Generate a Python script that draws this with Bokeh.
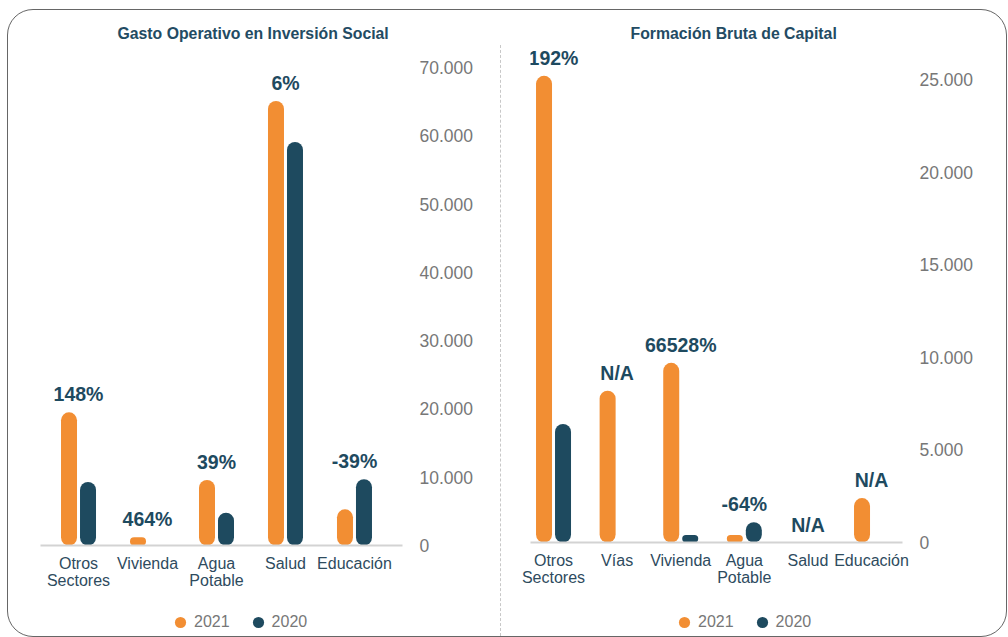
from bokeh.plotting import figure
from bokeh.models import Range1d, FixedTicker, Legend, LegendItem, Div
from bokeh.layouts import row, column
from bokeh.embed import file_html
from bokeh.resources import INLINE
from bokeh.core.properties import value

# ---------------- data ----------------
gasto_title = "Gasto Operativo en Inversión Social"
gasto_cats = ["Otros\nSectores", "Vivienda", "Agua\nPotable", "Salud", "Educación"]
gasto_2021 = [19500, 1200, 9600, 65100, 5300]
gasto_2020 = [9300, 0, 4800, 59100, 9700]
gasto_pct = ["148%", "464%", "39%", "6%", "-39%"]
gasto_yticks = [0, 10000, 20000, 30000, 40000, 50000, 60000, 70000]
gasto_ylabels = ["0", "10.000", "20.000", "30.000", "40.000", "50.000", "60.000", "70.000"]

fbk_title = "Formación Bruta de Capital"
fbk_cats = ["Otros\nSectores", "Vías", "Vivienda", "Agua\nPotable", "Salud", "Educación"]
fbk_2021 = [25200, 8200, 9700, 400, 0, 2400]
fbk_2020 = [6400, 0, 400, 1100, 0, 0]
fbk_pct = ["192%", "N/A", "66528%", "-64%", "N/A", "N/A"]
fbk_yticks = [0, 5000, 10000, 15000, 20000, 25000]
fbk_ylabels = ["0", "5.000", "10.000", "15.000", "20.000", "25.000"]

series_names = ["2021", "2020"]

ORANGE = "#F28E33"
TEAL = "#1E4A5F"
TITLE_C = "#234B63"
GRAY = "#777777"
FONT = "Liberation Sans"
NAN = float("nan")


def make_panel(title, cats, v21, v20, pct, yticks, ylabels, width, height,
               b_left, b_right, b_top, b_bottom, x_start, x_end, y_end,
               title_offset):
    frame_w = width - b_left - b_right
    p = figure(width=width, height=height,
               x_range=Range1d(x_start, x_end), y_range=Range1d(0, y_end),
               output_backend="svg", toolbar_location=None,
               y_axis_location="right",
               min_border_left=b_left, min_border_right=b_right,
               min_border_top=b_top, min_border_bottom=b_bottom)
    p.background_fill_alpha = 0
    p.border_fill_alpha = 0
    p.outline_line_color = None
    p.xgrid.grid_line_color = None
    p.ygrid.grid_line_color = None

    px = (x_end - x_start) / frame_w
    idx = list(range(len(cats)))
    x21 = [i - 9.5 * px for i in idx]
    x20 = [i + 9.5 * px for i in idx]
    p.vbar(x=x21, top=v21, width=16 * px, fill_color=ORANGE, line_color=None,
           border_radius=8)
    p.vbar(x=x20, top=v20, width=16 * px, fill_color=TEAL, line_color=None,
           border_radius=8)

    tops = [max(a, b) for a, b in zip(v21, v20)]
    p.text(x=idx, y=tops, text=pct, text_align="center", text_baseline="bottom",
           y_offset=-7, text_font=value(FONT), text_font_style="bold",
           text_font_size="19.5px", text_color=TEAL)

    # x axis
    xa = p.xaxis[0]
    xa.ticker = FixedTicker(ticks=idx)
    xa.major_label_overrides = {i: c for i, c in zip(idx, cats)}
    xa.major_tick_line_color = None
    xa.minor_tick_line_color = None
    xa.axis_line_color = "#D3D3D3"
    xa.axis_line_width = 2
    xa.major_label_standoff = 3
    xa.major_label_text_font = FONT
    xa.major_label_text_font_size = "16px"
    xa.major_label_text_line_height = 1.05
    xa.major_label_text_color = "#2E4B5E"

    # y axis
    ya = p.yaxis[0]
    ya.ticker = FixedTicker(ticks=yticks)
    ya.major_label_overrides = {t: l for t, l in zip(yticks, ylabels)}
    ya.axis_line_color = None
    ya.major_tick_line_color = None
    ya.minor_tick_line_color = None
    ya.major_label_standoff = 11
    ya.major_label_text_font = FONT
    ya.major_label_text_font_size = "17.5px"
    ya.major_label_text_color = GRAY

    # title
    p.title.text = title
    p.title.align = "left"
    p.title.offset = title_offset
    p.title.standoff = 8
    p.title.text_font = FONT
    p.title.text_font_size = "15.8px"
    p.title.text_font_style = "bold"
    p.title.text_color = TITLE_C
    return p


def make_legend(width, height, loc):
    lf = figure(width=width, height=height, x_range=Range1d(0, 1),
                y_range=Range1d(0, 1), output_backend="svg",
                toolbar_location=None, min_border=0,
                x_axis_location=None, y_axis_location=None)
    lf.xgrid.grid_line_color = None
    lf.ygrid.grid_line_color = None
    lf.outline_line_color = None
    lf.background_fill_alpha = 0
    lf.border_fill_alpha = 0
    d1 = lf.scatter(x=[NAN], y=[NAN], marker="circle", size=11,
                    fill_color=ORANGE, line_color=None)
    d2 = lf.scatter(x=[NAN], y=[NAN], marker="circle", size=11,
                    fill_color=TEAL, line_color=None)
    legend = Legend(items=[LegendItem(label=series_names[0], renderers=[d1]),
                           LegendItem(label=series_names[1], renderers=[d2])],
                    orientation="horizontal", location=loc,
                    glyph_width=28, glyph_height=28, label_standoff=-5, spacing=14,
                    padding=0, margin=0, border_line_color=None,
                    background_fill_alpha=0, label_text_font=FONT,
                    label_text_font_size="16px", label_text_color=GRAY)
    lf.add_layout(legend, "center")
    return lf


p1 = make_panel(gasto_title, gasto_cats, gasto_2021, gasto_2020, gasto_pct,
                gasto_yticks, gasto_ylabels, width=492, height=592,
                b_left=32, b_right=98, b_top=35, b_bottom=57,
                x_start=-0.551, x_end=4.696, y_end=73220,
                title_offset=77)

p2 = make_panel(fbk_title, fbk_cats, fbk_2021, fbk_2020, fbk_pct,
                fbk_yticks, fbk_ylabels, width=505, height=592,
                b_left=29, b_right=104, b_top=35, b_bottom=60,
                x_start=-0.362, x_end=5.487, y_end=26836,
                title_offset=100)

lf1 = make_legend(492, 34, (126, 0))
lf2 = make_legend(505, 34, (140, 0))

sep = Div(text="", width=1, height=591, margin=(35, 0, 0, 0),
          styles={"border-left": "1px dashed #C8C8C8"})

layout = row(column(p1, lf1), sep, column(p2, lf2),
             margin=(9, 0, 0, 7),
             styles={"border": "1px solid #666666", "border-radius": "26px"})

open("out.html", "w").write(file_html(layout, INLINE))
